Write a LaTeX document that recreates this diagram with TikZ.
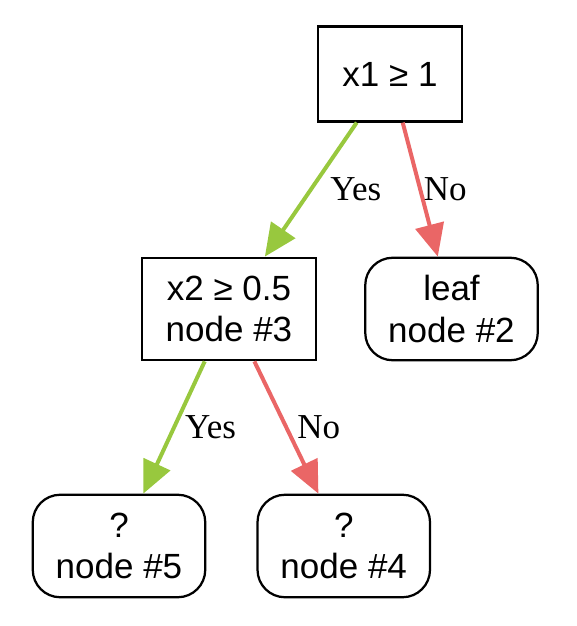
\documentclass[tikz,border=0pt]{standalone}
\usepackage{fontspec}
\setmainfont{Liberation Serif}
\newfontfamily\boxfont{Liberation Sans}
\usetikzlibrary{positioning,arrows.meta}
\definecolor{yesgreen}{RGB}{152,200,62}
\definecolor{nored}{RGB}{234,102,102}
\tikzset{
  split box/.style={
    draw,
    line width=0.9pt,
    font=\boxfont\fontsize{14}{16.5}\selectfont,
    align=center,
    minimum width={#1},
    minimum height={41pt},
  },
  leaf box/.style={
    split box=69pt,
    rounded corners=11pt,
  },
  branch/.style={
    draw=#1,
    line width=1.6pt,
    -{Triangle[length=13pt,width=11.5pt]},
  },
  edge label/.style={
    font=\fontsize{14}{16}\selectfont,
    inner sep=0pt,
    anchor=west,
  }
}

\begin{document}
\begin{tikzpicture}[x=0.4pt, y=-0.4pt, node distance=18.8pt]
        \useasboundingbox (0,0) rectangle (576,626);

        \node [split box=57.6pt, minimum height=38pt] (n1) at (390,74) {x1 ≥ 1};
        \node [split box=69.6pt] (n3) at (229,309) {x2 ≥ 0.5\\node \#3};
        \node [leaf box, right=of n3] (n2) {leaf\\node \#2};
        \node [leaf box] (n5) at (119,546) {?\\node \#5};
        \node [leaf box, right=20pt of n5] (n4) {?\\node \#4};

        \draw [branch=yesgreen] (n1) -- node [edge label, xshift=7pt] {Yes} (n3);
        \draw [branch=nored] (n1) -- node [edge label, xshift=0.6pt] {No} (n2);
        \draw [branch=yesgreen] (n3) -- node [edge label, xshift=3.6pt] {Yes} (n5);
        \draw [branch=nored] (n3) -- node [edge label, xshift=3.6pt] {No} (n4);
      \end{tikzpicture}
\end{document}
